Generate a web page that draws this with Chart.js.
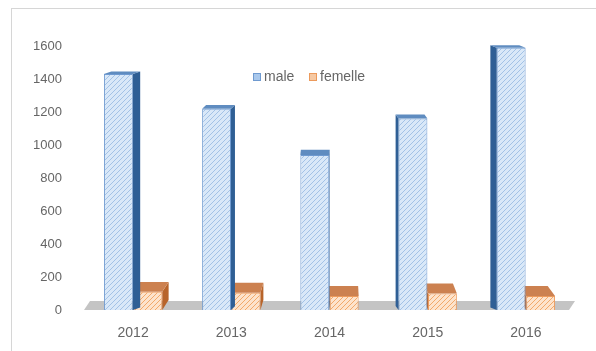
<!DOCTYPE html>
<html><head><meta charset="utf-8">
<script src="https://cdn.jsdelivr.net/npm/chart.js@4.4.0/dist/chart.umd.min.js"></script>
<style>html,body{margin:0;padding:0;background:#fff}#wrap{width:596px;height:351px;position:relative}</style>
</head><body><div id="wrap"><canvas id="c" width="596" height="351"></canvas></div>
<script>
const categories = ['2012', '2013', '2014', '2015', '2016'];
const maleValues = [1430, 1220, 940, 1160, 1590];
const femelleValues = [110, 105, 85, 100, 85];
const seriesNames = ['male', 'femelle'];
const yMin = 0, yMax = 1600, yStep = 200;

const FONT = '"Liberation Sans", Arial, sans-serif';
const TEXT = '#666666';

function hatch(bg, line) {
  const p = document.createElement('canvas');
  p.width = 5; p.height = 5;
  const g = p.getContext('2d');
  g.fillStyle = bg; g.fillRect(0, 0, 5, 5);
  g.strokeStyle = line; g.lineWidth = 1;
  g.beginPath();
  g.moveTo(0, 5); g.lineTo(5, 0);
  g.moveTo(-2.5, 2.5); g.lineTo(2.5, -2.5);
  g.moveTo(2.5, 7.5); g.lineTo(7.5, 2.5);
  g.stroke();
  return g.createPattern(p, 'repeat');
}

const styles = [
  { fill: hatch('#d9e8f8', '#a3c2e6'), border: '#6f9ad0', top: '#5f8cc0', side: '#2f5f95', legend: '#a9c8ec' },
  { fill: hatch('#fde3cc', '#f2a96a'), border: '#ec9a5c', top: '#cc8150', side: '#b8642a', legend: '#f6c9a3' }
];

const frame = {
  id: 'frame',
  beforeDraw(chart) {
    const ctx = chart.ctx;
    ctx.save();
    ctx.strokeStyle = '#d6d6d6'; ctx.lineWidth = 1;
    ctx.strokeRect(11.5, 8.5, 700, 500);
    ctx.restore();
  },
  beforeDatasetsDraw(chart) {
    const ctx = chart.ctx, a = chart.chartArea;
    const base = chart.scales.y.getPixelForValue(0);
    ctx.save();
    ctx.fillStyle = '#c4c4c4';
    ctx.beginPath();
    ctx.moveTo(a.left, base);
    ctx.lineTo(a.right - 6, base);
    ctx.lineTo(a.right, base - 9);
    ctx.lineTo(a.left + 6, base - 9);
    ctx.closePath();
    ctx.fill();
    ctx.restore();
  }
};

const box3d = {
  id: 'box3d',
  afterDatasetDraw(chart, args) {
    const ctx = chart.ctx;
    const st = styles[args.index];
    const vpX = (chart.chartArea.left + chart.chartArea.right) / 2;
    args.meta.data.forEach(el => {
      const w = el.width, x0 = el.x - w / 2, x1 = el.x + w / 2;
      const y = el.y, b = el.base;
      const dx = (vpX - el.x) * 0.035;
      const dy = Math.max(2.5, y * 0.034);
      ctx.save();
      ctx.fillStyle = st.side;
      ctx.beginPath();
      if (dx >= 0) {
        ctx.moveTo(x1, y); ctx.lineTo(x1 + dx, y - dy); ctx.lineTo(x1 + dx, b - dy); ctx.lineTo(x1, b);
      } else {
        ctx.moveTo(x0, y); ctx.lineTo(x0 + dx, y - dy); ctx.lineTo(x0 + dx, b - dy); ctx.lineTo(x0, b);
      }
      ctx.closePath(); ctx.fill();
      ctx.fillStyle = st.top;
      ctx.beginPath();
      ctx.moveTo(x0, y); ctx.lineTo(x1, y); ctx.lineTo(x1 + dx, y - dy); ctx.lineTo(x0 + dx, y - dy);
      ctx.closePath(); ctx.fill();
      ctx.restore();
    });
  }
};

const legendPlugin = {
  id: 'legendInside',
  afterDraw(chart) {
    const ctx = chart.ctx;
    const items = [{ x: 253 }, { x: 309 }];
    ctx.save();
    ctx.font = '14px ' + FONT;
    ctx.textBaseline = 'middle';
    chart.data.datasets.forEach((ds, i) => {
      const st = styles[i], x = items[i].x, y = 77;
      ctx.fillStyle = st.legend; ctx.fillRect(x, y - 4, 8, 8);
      ctx.strokeStyle = st.border; ctx.lineWidth = 1; ctx.strokeRect(x + 0.5, y - 3.5, 7, 7);
      ctx.fillStyle = TEXT; ctx.fillText(ds.label, x + 11, y);
    });
    ctx.restore();
  }
};

new Chart(document.getElementById('c'), {
  type: 'bar',
  data: {
    labels: categories,
    datasets: [
      { label: seriesNames[0], data: maleValues, backgroundColor: styles[0].fill, borderColor: styles[0].border, borderWidth: 1 },
      { label: seriesNames[1], data: femelleValues, backgroundColor: styles[1].fill, borderColor: styles[1].border, borderWidth: 1 }
    ]
  },
  options: {
    responsive: false,
    animation: false,
    devicePixelRatio: 1,
    layout: { padding: { top: 46, right: 21, bottom: 0, left: 0 } },
    datasets: { bar: { categoryPercentage: 0.6, barPercentage: 0.98 } },
    plugins: { legend: { display: false }, tooltip: { enabled: false } },
    scales: {
      x: {
        grid: { display: false, drawTicks: false },
        border: { display: false },
        ticks: { color: TEXT, font: { family: FONT, size: 14 }, padding: 15 },
        afterFit(s) { s.height = 41; }
      },
      y: {
        min: yMin, max: yMax,
        grid: { display: false, drawTicks: false },
        border: { display: false },
        ticks: { stepSize: yStep, autoSkip: false, color: TEXT, font: { family: FONT, size: 13 }, padding: 22, callback: v => String(v) },
        afterFit(s) { s.width = 84; }
      }
    }
  },
  plugins: [frame, box3d, legendPlugin]
});
</script>
</body></html>
